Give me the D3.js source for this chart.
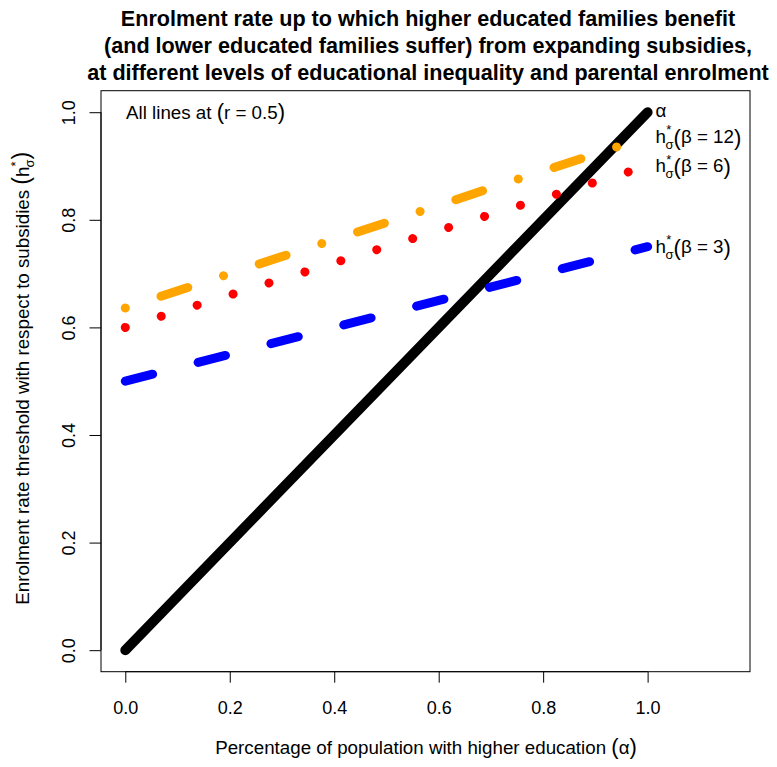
<!DOCTYPE html>
<html>
<head>
<meta charset="utf-8">
<script src="https://cdn.jsdelivr.net/npm/d3@7"></script>
<style>
  html, body { margin: 0; padding: 0; background: #fff; }
  text { font-family: "Liberation Sans", Arial, Helvetica, sans-serif; }
</style>
</head>
<body>
<svg id="chart" width="777" height="767"></svg>
<script>
// ---- data ----
const alphaValues = [0, 0.25, 0.5, 0.75, 1];
const alphaLine   = [0, 0.25, 0.5, 0.75, 1];
const beta12      = [0.636, 0.716, 0.795, 0.875, 0.954];
const beta6       = [0.600, 0.675, 0.750, 0.825, 0.900];
const beta3       = [0.500, 0.5625, 0.625, 0.6875, 0.750];
const xTicks = [0, 0.2, 0.4, 0.6, 0.8, 1.0];
const yTicks = [0, 0.2, 0.4, 0.6, 0.8, 1.0];
const titleLines = [
  "Enrolment rate up to which higher educated families benefit",
  "(and lower educated families suffer) from expanding subsidies,",
  "at different levels of educational inequality and parental enrolment"
];
const seriesLabels = [
  {name: "β = 12", values: beta12},
  {name: "β = 6",  values: beta6},
  {name: "β = 3",  values: beta3}
];

// ---- layout ----
const svg = d3.select("#chart");
const box = {left: 101, right: 750, top: 90.7, bottom: 671.7};
const x = d3.scaleLinear().domain([-0.0465, 1.196]).range([box.left, box.right]);
const y = d3.scaleLinear().domain([-0.0400, 1.0400]).range([box.bottom, box.top]);
const fs = 18;
const fl = 18.75;

// title
svg.append("g").selectAll("text").data(titleLines).join("text")
  .attr("x", 428).attr("y", (d, i) => 26 + i * 27)
  .attr("text-anchor", "middle")
  .attr("font-weight", "bold").attr("font-size", 21.6)
  .text(d => d);

// axes
const xAxis = d3.axisBottom(x).tickValues(xTicks).tickFormat(d3.format(".1f")).tickSize(11).tickPadding(14);
const gx = svg.append("g").attr("transform", `translate(0,${box.bottom})`).call(xAxis);
gx.select(".domain").attr("d", `M${x(0)},0H${x(1)}`).attr("stroke", "#000").attr("stroke-width", 1);
gx.selectAll(".tick line").attr("stroke", "#000");
gx.selectAll(".tick text").attr("font-size", fs).attr("font-family", "Liberation Sans, Arial, sans-serif").attr("fill", "#000")
  .attr("y", 42).attr("dy", null);

const yAxis = d3.axisLeft(y).tickValues(yTicks).tickFormat(d3.format(".1f")).tickSize(11.5).tickPadding(0);
const gy = svg.append("g").attr("transform", `translate(${box.left},0)`).call(yAxis);
gy.select(".domain").attr("d", `M0,${y(0)}V${y(1)}`).attr("stroke", "#000");
gy.selectAll(".tick line").attr("stroke", "#000");
gy.selectAll(".tick text")
  .attr("font-size", fs).attr("font-family", "Liberation Sans, Arial, sans-serif").attr("fill", "#000")
  .attr("text-anchor", "middle").attr("dy", null)
  .attr("x", null)
  .attr("transform", "translate(-26.5,0) rotate(-90)");

// box
svg.append("rect")
  .attr("x", box.left).attr("y", box.top)
  .attr("width", box.right - box.left).attr("height", box.bottom - box.top)
  .attr("fill", "none").attr("stroke", "#000").attr("stroke-width", 1);

// axis titles
const xl = svg.append("text").attr("x", 426).attr("y", 754)
  .attr("text-anchor", "middle").attr("font-size", fl);
xl.append("tspan").text("Percentage of population with higher education ");
xl.append("tspan").attr("font-size", 22).text("(");
xl.append("tspan").text("α");
xl.append("tspan").attr("font-size", 22).text(")");

const yl = svg.append("text")
  .attr("transform", `translate(28.5,${(box.top + box.bottom) / 2 - 3}) rotate(-90)`)
  .attr("text-anchor", "middle").attr("font-size", fl);
yl.append("tspan").text("Enrolment rate threshold with respect to subsidies ");
yl.append("tspan").attr("font-size", 23).text("(");
yl.append("tspan").text("h");
yl.append("tspan").attr("font-size", 13).attr("dy", -9).text("*");
yl.append("tspan").attr("font-size", 13).attr("dx", -6).attr("dy", 14).text("σ");
yl.append("tspan").attr("font-size", 23).attr("dy", -5).text(")");

// lines
const line = d3.line().x((d, i) => x(alphaValues[i])).y(d => y(d));
const u = 9.4;
svg.append("path").datum(alphaLine).attr("d", line)
  .attr("fill", "none").attr("stroke", "#000").attr("stroke-width", 10).attr("stroke-linecap", "round");
svg.append("path").datum(beta12).attr("d", line)
  .attr("fill", "none").attr("stroke", "orange").attr("stroke-width", 9).attr("stroke-linecap", "round")
  .attr("stroke-dasharray", `0.01 ${4*u - 0.01} ${3*u} ${4*u}`);
svg.append("path").datum(beta6).attr("d", line)
  .attr("fill", "none").attr("stroke", "red").attr("stroke-width", 9).attr("stroke-linecap", "round")
  .attr("stroke-dasharray", `0.01 ${4*u - 0.01}`);
svg.append("path").datum(beta3).attr("d", line)
  .attr("fill", "none").attr("stroke", "blue").attr("stroke-width", 9).attr("stroke-linecap", "round")
  .attr("stroke-dasharray", `${3*u} ${5*u}`);

// annotation
const ann = svg.append("text").attr("x", 126).attr("y", 118.5).attr("font-size", fl);
ann.append("tspan").text("All lines at ");
ann.append("tspan").attr("font-size", 22).text("(");
ann.append("tspan").text("r = 0.5");
ann.append("tspan").attr("font-size", 22).text(")");

// end labels
const lx = x(1) + 8;
svg.append("text").attr("x", lx).attr("y", y(alphaLine[alphaLine.length - 1]) + 4.5)
  .attr("font-size", fl).text("α");

seriesLabels.forEach(s => {
  const yy = y(s.values[s.values.length - 1]);
  const g = svg.append("g").attr("transform", `translate(${lx},${yy + 6})`);
  const h = g.append("text").attr("x", 0).attr("y", 0).attr("font-size", fl).text("h");
  const hw = h.node().getComputedTextLength();
  g.append("text").attr("x", hw + 0.3).attr("y", -8.5).attr("font-size", 13).text("*");
  g.append("text").attr("x", hw - 0.5).attr("y", 6).attr("font-size", 13).text("σ");
  const t = g.append("text").attr("x", hw + 7.5).attr("y", 2).attr("font-size", fl);
  t.append("tspan").attr("font-size", 22).text("(");
  t.append("tspan").attr("dy", -2).text(s.name);
  t.append("tspan").attr("dy", 2).attr("font-size", 22).text(")");
});
</script>
</body>
</html>
